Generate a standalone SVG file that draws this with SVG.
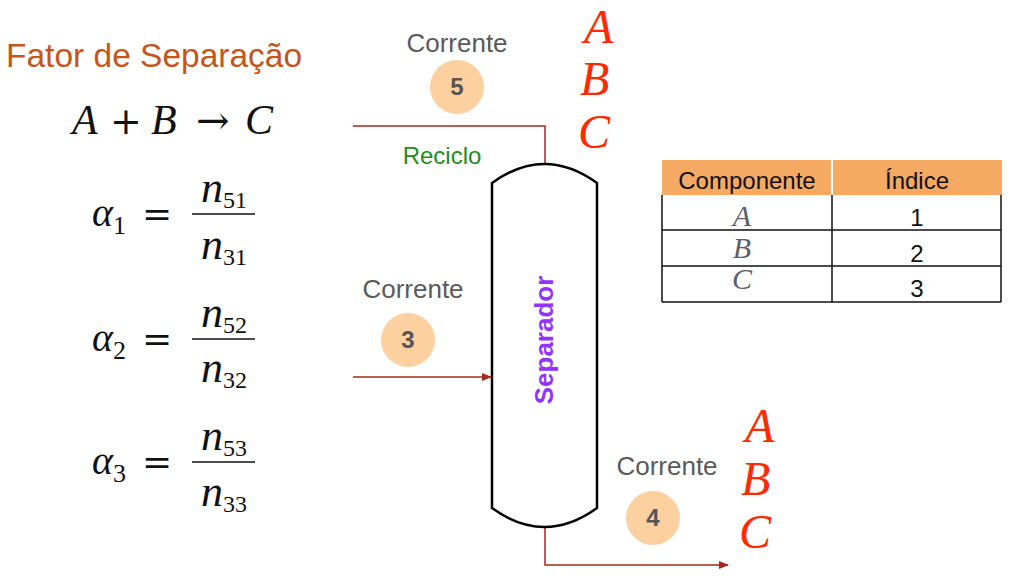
<svg xmlns="http://www.w3.org/2000/svg" width="1013" height="580" viewBox="0 0 1013 580">
<defs>
<style>
.title{font-family:"Liberation Sans",Arial,sans-serif;font-size:33.5px;fill:#C5561B}
.math{font-family:"Liberation Serif","DejaVu Serif",serif;fill:#111}
.it{font-style:italic}
.op{font-family:"DejaVu Serif",serif;font-style:normal}
.lbl{font-family:"Liberation Sans",Arial,sans-serif;font-size:26px;fill:#5a5a5a;text-anchor:middle}
.num{font-family:"Liberation Sans",Arial,sans-serif;font-size:24px;font-weight:bold;fill:#555;text-anchor:middle}
.badge{fill:#FDD09F}
.red{font-family:"Liberation Serif","Times New Roman",serif;font-style:italic;font-size:48px;fill:#FF2A00}
.conn{fill:none;stroke:#A3281F;stroke-width:1.5}
.tbl{font-family:"Liberation Sans",Arial,sans-serif;font-size:24px;fill:#111;text-anchor:middle}
.tm{font-family:"Liberation Serif","Times New Roman",serif;font-style:italic;font-size:30px;fill:#5a5e6e;text-anchor:middle}
.grid{stroke:#111;stroke-width:1.5;fill:none}
</style>
<marker id="arr" markerWidth="10" markerHeight="8" refX="9" refY="4" orient="auto" markerUnits="userSpaceOnUse">
<path d="M0,0 L10,4 L0,8 Z" fill="#A3281F"/>
</marker>
</defs>
<rect width="1013" height="580" fill="#fff"/>

<g id="title"><text class="title" x="6" y="67">Fator de Separação</text></g>

<g id="equations" class="math">
<text x="72" y="134" font-size="42"><tspan class="it">A</tspan><tspan x="110" class="op" font-size="38">+</tspan><tspan x="151" class="it">B</tspan><tspan x="196" class="op" font-size="40">→</tspan><tspan x="245" class="it">C</tspan></text>

<text x="92" y="226" font-size="40"><tspan class="it">α</tspan><tspan font-size="26" dy="8">1</tspan><tspan x="142" dy="-8" class="op" font-size="36">=</tspan></text>
<text x="224" y="202" font-size="44" text-anchor="middle"><tspan class="it">n</tspan><tspan font-size="24" dy="6">51</tspan></text>
<line x1="192" y1="214" x2="255" y2="214" stroke="#111" stroke-width="1.6"/>
<text x="224" y="259" font-size="44" text-anchor="middle"><tspan class="it">n</tspan><tspan font-size="24" dy="6">31</tspan></text>

<text x="92" y="351" font-size="40"><tspan class="it">α</tspan><tspan font-size="26" dy="8">2</tspan><tspan x="142" dy="-8" class="op" font-size="36">=</tspan></text>
<text x="224" y="327" font-size="44" text-anchor="middle"><tspan class="it">n</tspan><tspan font-size="24" dy="6">52</tspan></text>
<line x1="192" y1="339" x2="255" y2="339" stroke="#111" stroke-width="1.6"/>
<text x="224" y="382" font-size="44" text-anchor="middle"><tspan class="it">n</tspan><tspan font-size="24" dy="6">32</tspan></text>

<text x="92" y="474" font-size="40"><tspan class="it">α</tspan><tspan font-size="26" dy="8">3</tspan><tspan x="142" dy="-8" class="op" font-size="36">=</tspan></text>
<text x="224" y="450" font-size="44" text-anchor="middle"><tspan class="it">n</tspan><tspan font-size="24" dy="6">53</tspan></text>
<line x1="192" y1="462" x2="255" y2="462" stroke="#111" stroke-width="1.6"/>
<text x="224" y="506" font-size="44" text-anchor="middle"><tspan class="it">n</tspan><tspan font-size="24" dy="6">33</tspan></text>
</g>

<g id="connectors">
<path class="conn" d="M353,126 H545 V164"/>
<path class="conn" d="M353,377 H491" marker-end="url(#arr)"/>
<path class="conn" d="M545,527 V565 H728" marker-end="url(#arr)"/>
</g>

<g id="separador">
<path d="M492,183 Q544.5,145 597,183 V508 Q544.5,546 492,508 Z" fill="#fff" stroke="#000" stroke-width="2.5"/>
<text x="0" y="0" transform="translate(553,340) rotate(-90)" text-anchor="middle" font-family="Liberation Sans,Arial,sans-serif" font-weight="bold" font-size="26" fill="#9333FF">Separador</text>
</g>

<g id="stream5">
<text class="lbl" x="457" y="52">Corrente</text>
<circle class="badge" cx="457" cy="87" r="27"/>
<text class="num" x="457" y="95">5</text>
<text x="442" y="164" font-family="Liberation Sans,Arial,sans-serif" font-size="24" fill="#1E8C1E" text-anchor="middle">Reciclo</text>
</g>

<g id="stream3">
<text class="lbl" x="413" y="298">Corrente</text>
<circle class="badge" cx="408" cy="340" r="27"/>
<text class="num" x="408" y="348">3</text>
</g>

<g id="stream4">
<text class="lbl" x="667" y="475">Corrente</text>
<circle class="badge" cx="653" cy="518" r="27"/>
<text class="num" x="653" y="526">4</text>
</g>

<g id="abc-top">
<text class="red" x="584" y="43">A</text>
<text class="red" x="580" y="95">B</text>
<text class="red" x="578" y="148">C</text>
</g>

<g id="abc-bottom">
<text class="red" x="745" y="442">A</text>
<text class="red" x="741" y="495">B</text>
<text class="red" x="739" y="548">C</text>
</g>

<g id="table">
<rect x="662" y="160" width="169" height="35" fill="#F5A963"/>
<rect x="833" y="160" width="169" height="35" fill="#F5A963"/>
<text class="tbl" x="747" y="189">Componente</text>
<text class="tbl" x="917" y="189">Índice</text>
<path class="grid" d="M662,195 V302 M832,195 V302 M1001,195 V302 M662,230 H1001 M662,266 H1001 M662,302 H1001"/>
<text class="tm" x="742" y="226">A</text>
<text class="tm" x="742" y="258">B</text>
<text class="tm" x="742" y="289">C</text>
<text class="tbl" x="917" y="226" font-size="22">1</text>
<text class="tbl" x="917" y="262" font-size="22">2</text>
<text class="tbl" x="917" y="297" font-size="22">3</text>
</g>
</svg>
